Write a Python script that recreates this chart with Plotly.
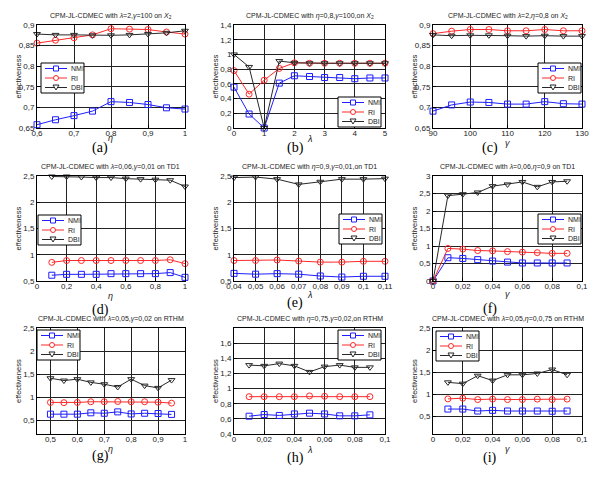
import plotly.graph_objects as go
from plotly.subplots import make_subplots

# x values of each panel
x_a = [0.6, 0.65, 0.7, 0.75, 0.8, 0.85, 0.9, 0.95, 1.0]
x_b = [0, 0.5, 1, 1.5, 2, 2.5, 3, 3.5, 4, 4.5, 5]
x_c = [90, 95, 100, 105, 110, 115, 120, 125, 130]
x_d = [0.1, 0.2, 0.3, 0.4, 0.5, 0.6, 0.7, 0.8, 0.9, 1.0]
x_e = [0.04, 0.05, 0.06, 0.07, 0.08, 0.09, 0.1, 0.11]
x_f = [0, 0.01, 0.02, 0.03, 0.04, 0.05, 0.06, 0.07, 0.08, 0.09]
x_g = [0.5, 0.55, 0.6, 0.65, 0.7, 0.75, 0.8, 0.85, 0.9, 0.95]
x_h = [0.01, 0.02, 0.03, 0.04, 0.05, 0.06, 0.07, 0.08, 0.09]
x_i = [0.01, 0.02, 0.03, 0.04, 0.05, 0.06, 0.07, 0.08, 0.09]

# NMI / RI / DBI per panel
nmi_a = [0.658, 0.670, 0.680, 0.691, 0.714, 0.712, 0.707, 0.699, 0.696]
ri_a = [0.856, 0.863, 0.869, 0.876, 0.891, 0.890, 0.889, 0.883, 0.878]
dbi_a = [0.878, 0.876, 0.876, 0.875, 0.875, 0.876, 0.878, 0.881, 0.886]

nmi_b = [0.555, 0.19, 0.0, 0.61, 0.71, 0.70, 0.686, 0.686, 0.67, 0.68, 0.68]
ri_b = [0.78, 0.46, 0.65, 0.81, 0.886, 0.88, 0.88, 0.88, 0.88, 0.88, 0.88]
dbi_b = [1.0, 0.83, 0.0, 0.91, 0.886, 0.88, 0.88, 0.88, 0.88, 0.88, 0.88]

nmi_c = [0.691, 0.706, 0.713, 0.712, 0.708, 0.708, 0.714, 0.709, 0.708]
ri_c = [0.879, 0.885, 0.889, 0.889, 0.886, 0.886, 0.889, 0.886, 0.886]
dbi_c = [0.876, 0.874, 0.875, 0.875, 0.874, 0.873, 0.874, 0.873, 0.873]

nmi_d = [0.61, 0.627, 0.627, 0.627, 0.64, 0.64, 0.64, 0.64, 0.66, 0.57]
ri_d = [0.855, 0.89, 0.89, 0.89, 0.89, 0.89, 0.89, 0.89, 0.905, 0.83]
dbi_d = [2.49, 2.49, 2.48, 2.47, 2.47, 2.45, 2.44, 2.43, 2.42, 2.30]

nmi_e = [0.645, 0.63, 0.64, 0.63, 0.595, 0.575, 0.59, 0.59]
ri_e = [0.89, 0.89, 0.90, 0.88, 0.86, 0.86, 0.875, 0.875]
dbi_e = [2.47, 2.48, 2.44, 2.34, 2.39, 2.44, 2.44, 2.45]

nmi_f = [0.0, 0.665, 0.645, 0.61, 0.57, 0.54, 0.515, 0.515, 0.515, 0.515]
ri_f = [0.0, 0.93, 0.91, 0.87, 0.86, 0.84, 0.825, 0.81, 0.79, 0.79]
dbi_f = [0.0, 2.44, 2.48, 2.53, 2.71, 2.76, 2.83, 2.69, 2.83, 2.85]

nmi_g = [0.63, 0.63, 0.63, 0.66, 0.65, 0.68, 0.635, 0.65, 0.645, 0.625]
ri_g = [0.885, 0.88, 0.885, 0.9, 0.9, 0.905, 0.9, 0.9, 0.89, 0.87]
dbi_g = [1.41, 1.36, 1.39, 1.32, 1.28, 1.22, 1.39, 1.25, 1.20, 1.37]

nmi_h = [0.635, 0.657, 0.645, 0.665, 0.675, 0.665, 0.64, 0.64, 0.653]
ri_h = [0.893, 0.893, 0.893, 0.893, 0.903, 0.898, 0.893, 0.893, 0.893]
dbi_h = [1.31, 1.30, 1.33, 1.30, 1.22, 1.29, 1.31, 1.28, 1.28]

nmi_i = [0.665, 0.665, 0.62, 0.635, 0.62, 0.62, 0.62, 0.615, 0.62]
ri_i = [0.895, 0.91, 0.88, 0.89, 0.88, 0.88, 0.89, 0.88, 0.89]
dbi_i = [1.27, 1.24, 1.42, 1.31, 1.44, 1.44, 1.47, 1.56, 1.44]

titles = [
    "CPM-JL-CDMEC with <i>λ</i>=2,<i>γ</i>=100 on <i>X</i><sub>2</sub>",
    "CPM-JL-CDMEC with <i>η</i>=0,8,<i>γ</i>=100,on <i>X</i><sub>2</sub>",
    "CPM-JL-CDMEC with <i>λ</i>=2,<i>η</i>=0,8 on <i>X</i><sub>2</sub>",
    "CPM-JL-CDMEC with <i>λ</i>=0,06,<i>γ</i>=0,01 on TD1",
    "CPM-JL-CDMEC with <i>η</i>=0,9,<i>γ</i>=0,01,on TD1",
    "CPM-JL-CDMEC with <i>λ</i>=0,06,<i>η</i>=0,9 on TD1",
    "CPM-JL-CDMEC with <i>λ</i>=0,05,<i>γ</i>=0,02 on RTHM",
    "CPM-JL-CDMEC with <i>η</i>=0,75,<i>γ</i>=0,02,on RTHM",
    "CPM-JL-CDMEC with <i>λ</i>=0,05,<i>η</i>=0,0,75 on RTHM",
]
xlabels = ["η", "λ", "γ"] * 3
panel_tags = ["(a)", "(b)", "(c)", "(d)", "(e)", "(f)", "(g)", "(h)", "(i)"]

panels = [
    (x_a, nmi_a, ri_a, dbi_a),
    (x_b, nmi_b, ri_b, dbi_b),
    (x_c, nmi_c, ri_c, dbi_c),
    (x_d, nmi_d, ri_d, dbi_d),
    (x_e, nmi_e, ri_e, dbi_e),
    (x_f, nmi_f, ri_f, dbi_f),
    (x_g, nmi_g, ri_g, dbi_g),
    (x_h, nmi_h, ri_h, dbi_h),
    (x_i, nmi_i, ri_i, dbi_i),
]

# axis ranges and tick values
x_ranges = [[0.6, 1], [0, 5], [90, 130], [0, 1], [0.04, 0.11], [0, 0.1], [0.45, 1], [0, 0.1], [0, 0.1]]
x_ticks = [
    [0.6, 0.7, 0.8, 0.9, 1],
    [0, 1, 2, 3, 4, 5],
    [90, 100, 110, 120, 130],
    [0, 0.2, 0.4, 0.6, 0.8, 1],
    [0.04, 0.05, 0.06, 0.07, 0.08, 0.09, 0.1, 0.11],
    [0, 0.02, 0.04, 0.06, 0.08, 0.1],
    [0.5, 0.6, 0.7, 0.8, 0.9, 1],
    [0, 0.02, 0.04, 0.06, 0.08, 0.1],
    [0, 0.02, 0.04, 0.06, 0.08, 0.1],
]
y_ranges = [[0.65, 0.9], [0, 1.4], [0.65, 0.9], [0.5, 2.5], [0.5, 2.5], [0, 3], [0.2, 2.5], [0.4, 1.8], [0.1, 2.5]]
y_ticks = [
    [0.65, 0.7, 0.75, 0.8, 0.85, 0.9],
    [0, 0.2, 0.4, 0.6, 0.8, 1, 1.2, 1.4],
    [0.65, 0.7, 0.75, 0.8, 0.85, 0.9],
    [0.5, 1, 1.5, 2, 2.5],
    [0.5, 1, 1.5, 2, 2.5],
    [0, 0.5, 1, 1.5, 2, 2.5, 3],
    [0.5, 1, 1.5, 2, 2.5],
    [0.4, 0.6, 0.8, 1, 1.2, 1.4, 1.6],
    [0.5, 1, 1.5, 2, 2.5],
]

# the page has the browser's 8px body margin, so the figure is inset by it
PAGE_W, PAGE_H, INSET = 602, 483, 8
W, H = PAGE_W - INSET, PAGE_H - INSET
col_l = [37, 234, 433]
col_r = [185, 385, 582]
row_t = [25, 176, 328]
row_b = [128, 281, 434]
tag_x = [100, 295, 490]
tag_y = [148, 148, 148, 310, 303, 309, 456, 458, 458]
xtitle_off = [10, 11, 15, 15, 14, 13, 15, 16, 15]

# legend box top-left corner in page pixels
leg_pos = [(41, 63), (338, 97), (538, 63), (38, 215), (339, 214),
           (538, 214), (37, 330), (338, 330), (436, 331)]
LEG_W, LEG_H = 43, 30

series = [
    ("NMI", "rgb(30,30,255)", "square-open"),
    ("RI", "rgb(255,40,40)", "circle-open"),
    ("DBI", "rgb(40,40,40)", "triangle-down-open"),
]


def px(x):
    return (x - INSET) / W


def py(y):
    return 1 - (y - INSET) / H


fig = make_subplots(rows=3, cols=3)
shapes = []

for k, (xs, nmi, ri, dbi) in enumerate(panels):
    r, c = k // 3, k % 3
    for (name, color, sym), ys in zip(series, [nmi, ri, dbi]):
        fig.add_trace(go.Scatter(
            x=xs, y=ys, name=name, mode="lines+markers", showlegend=False,
            line=dict(color=color, width=1),
            marker=dict(symbol=sym, size=6, color=color, line=dict(width=1, color=color)),
            cliponaxis=False,
        ), row=r + 1, col=c + 1)

    ax = "" if k == 0 else str(k + 1)
    common = dict(
        showgrid=True, gridcolor="#222", gridwidth=1.2, zeroline=False,
        showline=True, linecolor="black", linewidth=1, mirror=True,
        ticks="inside", ticklen=3, tickcolor="black", automargin=False,
        tickfont=dict(size=8, color="#222"),
    )
    fig.layout["xaxis" + ax].update(
        domain=[px(col_l[c]), px(col_r[c])], range=x_ranges[k], tickvals=x_ticks[k],
        ticklabelstandoff=-3, **common)
    fig.layout["yaxis" + ax].update(
        domain=[py(row_b[r]), py(row_t[r])], range=y_ranges[k], tickvals=y_ticks[k], **common)

    cx = (col_l[c] + col_r[c]) / 2
    # title
    fig.add_annotation(text=titles[k], x=px(cx), y=py(row_t[r] - 9),
                       font=dict(size=7, color="#222"))
    # axis titles
    fig.add_annotation(text=f"<i>{xlabels[k]}</i>", x=px(cx), y=py(row_b[r] + xtitle_off[k]),
                       font=dict(size=9, color="#222"))
    fig.add_annotation(text="effectiveness", x=px(col_l[c] - 19), y=py((row_t[r] + row_b[r]) / 2),
                       textangle=-90, font=dict(size=7.5, color="#222"))
    # panel tag
    fig.add_annotation(text=panel_tags[k], x=px(tag_x[c]), y=py(tag_y[k]),
                       font=dict(size=14, color="black", family="Liberation Serif"))

    # legend box drawn by hand (MATLAB-like compact legend)
    lx, ly = leg_pos[k]
    shapes.append(dict(type="rect", x0=px(lx), x1=px(lx + LEG_W), y0=py(ly), y1=py(ly + LEG_H),
                       line=dict(color="black", width=1), fillcolor="white"))
    for j, (name, color, sym) in enumerate(series):
        ey = ly + 5.5 + j * 9.5
        shapes.append(dict(type="line", x0=px(lx + 4), x1=px(lx + 26), y0=py(ey), y1=py(ey),
                           line=dict(color=color, width=1)))
        mx = lx + 15
        if j == 0:
            shapes.append(dict(type="rect", x0=px(mx - 2.5), x1=px(mx + 2.5), y0=py(ey - 2.5),
                               y1=py(ey + 2.5), line=dict(color=color, width=1), fillcolor="white"))
        elif j == 1:
            shapes.append(dict(type="circle", x0=px(mx - 2.5), x1=px(mx + 2.5), y0=py(ey - 2.5),
                               y1=py(ey + 2.5), line=dict(color=color, width=1), fillcolor="white"))
        else:
            path = (f"M {px(mx - 3):.5f},{py(ey - 2.5):.5f} L {px(mx + 3):.5f},{py(ey - 2.5):.5f} "
                    f"L {px(mx):.5f},{py(ey + 2.5):.5f} Z")
            shapes.append(dict(type="path", path=path, line=dict(color=color, width=1),
                               fillcolor="white"))
        fig.add_annotation(text=name, x=px(lx + 28), y=py(ey), xanchor="left",
                           font=dict(size=7, color="#222"))

fig.update_annotations(xref="paper", yref="paper", showarrow=False, yanchor="middle")
for a in fig.layout.annotations:
    if a.xanchor is None:
        a.xanchor = "center"
for s in shapes:
    s.update(xref="paper", yref="paper", layer="above")
fig.update_layout(
    shapes=shapes,
    width=W, height=H, margin=dict(l=0, r=0, t=0, b=0),
    paper_bgcolor="white", plot_bgcolor="white", showlegend=False,
    separators=",.", font=dict(family="Liberation Sans"),
)

fig.write_html("out.html")
